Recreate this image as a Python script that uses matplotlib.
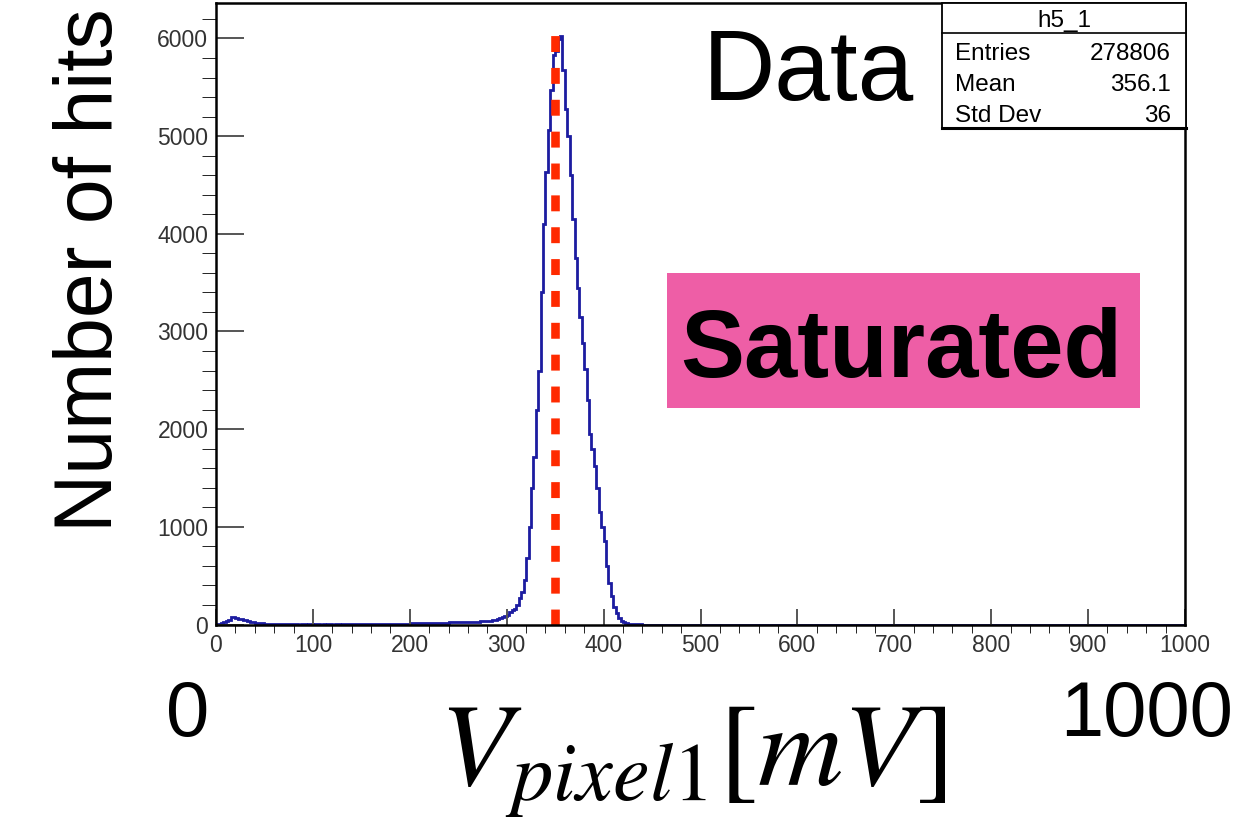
import numpy as np
import matplotlib.pyplot as plt
from matplotlib.patches import Rectangle
from matplotlib.ticker import MultipleLocator

plt.rcParams['font.family'] = ['Liberation Sans', 'DejaVu Sans']
plt.rcParams['mathtext.fontset'] = 'stix'

# histogram h5_1 : 2.5 mV bins, only the filled part (0 - 440 mV), rest is empty
bin_width = 2.5
counts_low = [0, 5, 15, 25, 32, 50, 72, 80, 68, 58, 55, 50, 44, 36, 30, 24,
              20, 18, 15, 12, 9, 7, 5, 4,
              3, 3, 2, 2, 2, 1, 1, 2, 1, 1, 0, 1, 1, 0, 1, 1,
              0, 1, 1, 0, 1, 0, 1, 1, 0, 1, 1, 0, 1, 1, 2, 1,
              1, 2, 2, 1, 2, 2, 3, 2, 3, 3, 4, 3, 4, 5, 4, 5,
              6, 5, 7, 6, 8, 9, 8, 10, 11, 12, 11, 13, 14, 13, 15, 14,
              16, 15, 17, 18, 17, 19, 20, 19, 21, 22, 21, 23, 24, 23, 25, 26,
              27, 26, 28, 29, 30, 31, 32, 33]
counts_peak = [36, 40, 45, 50, 58, 68, 78, 85, 100, 125, 145, 160,
               200, 270, 330, 455, 677, 1000, 1400, 1718, 2200, 2600, 3400, 4100,
               4635, 5061, 5471, 5830, 5870, 5990, 6030, 5675, 5282, 5000, 4600, 4150,
               3750, 3450, 3150, 2880, 2620, 2300, 1950, 1800, 1620, 1400, 1150, 1000,
               860, 600, 420, 290, 180, 120, 70, 40, 25, 15, 9, 5, 3, 2, 1, 1]
x_min, x_max = 0, 1000
y_max = 6360
mean_line = 350

stats_title = "h5_1"
stats_names = ["Entries", "Mean", "Std Dev"]
stats_values = ["278806", "356.1", "36"]

counts = np.array(counts_low + counts_peak, dtype=float)
nbins = int((x_max - x_min) / bin_width)
counts = np.concatenate([counts, np.zeros(nbins - len(counts))])
edges = x_min + bin_width * np.arange(nbins + 1)

W, H = 1256, 836
fig = plt.figure(figsize=(W / 100, H / 100), dpi=100)
fx = lambda x: x / W
fy = lambda y: 1 - y / H

ax = fig.add_axes([fx(216), fy(624.5), fx(1185) - fx(216), fy(3.3) - fy(624.5)])
ax.stairs(counts, edges, color='#1c1ca0', lw=2.0, baseline=None)
ax.plot([mean_line, mean_line], [0, 6060], color='#ff2a00', lw=6.2,
        dashes=(1.85, 1.85), solid_capstyle='butt', dash_capstyle='butt')
ax.set_xlim(x_min, x_max)
ax.set_ylim(0, y_max)

for s in ax.spines.values():
    s.set_linewidth(1.8)
    s.set_color('black')
ax.xaxis.set_major_locator(MultipleLocator(100))
ax.xaxis.set_minor_locator(MultipleLocator(20))
ax.yaxis.set_major_locator(MultipleLocator(1000))
ax.yaxis.set_minor_locator(MultipleLocator(200))
ax.tick_params(direction='in', color='#555555', width=1.4, labelsize=16.5,
               labelcolor='#333333')
ax.tick_params(axis='x', which='major', length=11.5, pad=7)
ax.tick_params(axis='x', which='minor', length=5.8)
ax.tick_params(axis='y', which='major', length=20.5, pad=5.5)
ax.tick_params(axis='y', which='minor', length=10)

# stats box
fig.patches.append(Rectangle((fx(942), fy(128)), fx(1186) - fx(942), fy(3) - fy(128),
                             transform=fig.transFigure, facecolor='white',
                             edgecolor='black', lw=1.3, zorder=5))
fig.lines.append(plt.Line2D([fx(942), fx(1186)], [fy(33), fy(33)],
                            transform=fig.transFigure, color='black', lw=1.2, zorder=6))
fig.lines.append(plt.Line2D([fx(942), fx(1186)], [fy(128), fy(128)],
                            transform=fig.transFigure, color='black', lw=2.2, zorder=6))
fig.text(fx(1064), fy(26.5), stats_title, ha='center', va='baseline', fontsize=17.5, zorder=7)
for i, (n, v) in enumerate(zip(stats_names, stats_values)):
    yb = 60 + 31 * i
    fig.text(fx(955), fy(yb), n, ha='left', va='baseline', fontsize=17.5, zorder=7)
    fig.text(fx(1171), fy(yb), v, ha='right', va='baseline', fontsize=17.5, zorder=7)

# big labels
fig.text(fx(703), fy(100), "Data", ha='left', va='baseline', fontsize=72)
fig.patches.append(Rectangle((fx(667), fy(408)), fx(1140) - fx(667), fy(273) - fy(408),
                             transform=fig.transFigure, facecolor='#ee5ea6',
                             edgecolor='none'))
fig.text(fx(901), fy(377), "Saturated", ha='center', va='baseline',
         fontsize=69, fontweight='bold')
fig.text(fx(91), fy(270), "Number of hits", rotation=90, ha='center', va='center',
         fontsize=58)
fig.text(fx(188), fy(736), "0", ha='center', va='baseline', fontsize=56)
fig.text(fx(1233), fy(736), "1000", ha='right', va='baseline', fontsize=56)
fig.text(fx(693), fy(785), r"$V_{pixel1}[mV]$", ha='center', va='baseline',
         fontsize=85)

fig.savefig("out.png", dpi=100)
